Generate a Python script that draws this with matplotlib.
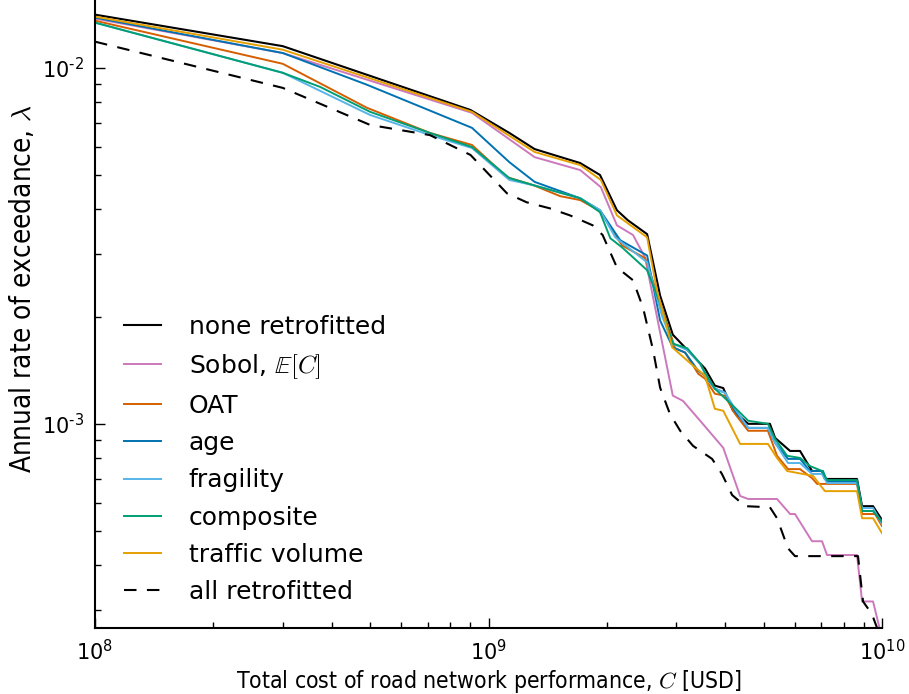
import numpy as np
import matplotlib
matplotlib.use("Agg")
import matplotlib.pyplot as plt
from matplotlib.ticker import FuncFormatter

plt.rcParams["mathtext.fontset"] = "cm"
plt.rcParams["font.family"] = "DejaVu Sans"
plt.rcParams["axes.unicode_minus"] = False

# exceedance curves: total cost C [USD] vs annual rate lambda
none_c = [1.0e8, 3.0e8, 9.0e8, 1.13e9, 1.31e9, 1.71e9, 1.92e9, 2.12e9, 2.26e9, 2.53e9,
          2.73e9, 2.94e9, 3.25e9, 3.55e9, 3.76e9, 3.95e9, 4.18e9, 4.57e9, 5.19e9, 5.35e9,
          5.84e9, 6.19e9, 6.64e9, 7.04e9, 7.16e9, 8.64e9, 8.90e9, 9.49e9, 1.0e10]
none_l = [1.41e-2, 1.15e-2, 7.61e-3, 6.56e-3, 5.91e-3, 5.40e-3, 5.00e-3, 3.98e-3, 3.73e-3, 3.41e-3,
          2.29e-3, 1.78e-3, 1.585e-3, 1.43e-3, 1.28e-3, 1.26e-3, 1.09e-3, 1.00e-3, 1.00e-3, 9.13e-4,
          8.39e-4, 8.39e-4, 7.37e-4, 7.37e-4, 7.00e-4, 7.00e-4, 5.87e-4, 5.87e-4, 5.37e-4]

sobol_c = [1.0e8, 3.0e8, 9.08e8, 1.31e9, 1.71e9, 1.93e9, 2.12e9, 2.33e9, 2.50e9, 2.94e9,
           3.12e9, 3.45e9, 3.95e9, 4.36e9, 4.57e9, 5.41e9, 5.84e9, 6.01e9, 6.64e9, 7.04e9,
           7.25e9, 8.64e9, 8.90e9, 9.49e9, 1.0e10]
sobol_l = [1.374e-2, 1.10e-2, 7.47e-3, 5.61e-3, 5.16e-3, 4.62e-3, 3.61e-3, 3.39e-3, 2.93e-3, 1.20e-3,
           1.16e-3, 1.02e-3, 8.56e-4, 6.27e-4, 6.15e-4, 6.15e-4, 5.58e-4, 5.58e-4, 4.68e-4, 4.68e-4,
           4.28e-4, 4.28e-4, 3.17e-4, 3.17e-4, 2.5e-4]

oat_c = [1.0e8, 3.0e8, 4.91e8, 7.10e8, 9.08e8, 1.114e9, 1.30e9, 1.52e9, 1.71e9, 1.92e9,
         2.185e9, 2.50e9, 2.76e9, 2.98e9, 3.16e9, 3.41e9, 3.55e9, 3.76e9, 3.99e9, 4.23e9,
         4.57e9, 5.13e9, 5.41e9, 5.77e9, 6.19e9, 6.64e9, 6.84e9, 8.64e9, 8.90e9, 9.60e9, 1.0e10]
oat_l = [1.356e-2, 1.026e-2, 7.72e-3, 6.56e-3, 6.07e-3, 4.93e-3, 4.68e-3, 4.36e-3, 4.25e-3, 3.96e-3,
         3.17e-3, 2.92e-3, 2.12e-3, 1.63e-3, 1.585e-3, 1.383e-3, 1.339e-3, 1.215e-3, 1.199e-3, 1.067e-3,
         9.56e-4, 9.56e-4, 8.13e-4, 7.46e-4, 7.46e-4, 7.04e-4, 6.78e-4, 6.78e-4, 5.58e-4, 5.58e-4, 5.16e-4]

age_c = [1.0e8, 3.0e8, 4.91e8, 9.08e8, 1.13e9, 1.31e9, 1.71e9, 1.92e9, 2.16e9, 2.53e9,
         2.73e9, 2.94e9, 3.16e9, 3.41e9, 3.55e9, 3.76e9, 3.99e9, 4.23e9, 4.57e9, 5.13e9,
         5.35e9, 5.77e9, 6.19e9, 6.56e9, 7.08e9, 7.25e9, 8.64e9, 8.90e9, 9.49e9, 1.0e10]
age_l = [1.383e-2, 1.10e-2, 8.96e-3, 6.78e-3, 5.43e-3, 4.78e-3, 4.30e-3, 3.98e-3, 3.28e-3, 2.97e-3,
         1.95e-3, 1.64e-3, 1.585e-3, 1.41e-3, 1.365e-3, 1.255e-3, 1.223e-3, 1.088e-3, 9.74e-4, 9.74e-4,
         8.84e-4, 7.97e-4, 7.97e-4, 7.37e-4, 7.37e-4, 6.88e-4, 6.88e-4, 5.69e-4, 5.69e-4, 5.33e-4]

frag_c = [1.0e8, 3.0e8, 5.0e8, 7.10e8, 9.08e8, 1.13e9, 1.30e9, 1.71e9, 1.92e9, 2.10e9,
          2.53e9, 2.76e9, 2.94e9, 3.20e9, 3.45e9, 3.55e9, 3.76e9, 3.99e9, 4.23e9, 4.57e9,
          5.13e9, 5.35e9, 5.77e9, 6.19e9, 6.64e9, 7.04e9, 7.25e9, 8.64e9, 8.90e9, 9.49e9, 1.0e10]
frag_l = [1.339e-2, 9.68e-3, 7.37e-3, 6.47e-3, 5.95e-3, 4.84e-3, 4.68e-3, 4.30e-3, 3.98e-3, 3.34e-3,
          2.84e-3, 2.01e-3, 1.68e-3, 1.61e-3, 1.476e-3, 1.383e-3, 1.255e-3, 1.223e-3, 1.102e-3, 9.74e-4,
          9.74e-4, 8.84e-4, 7.76e-4, 7.76e-4, 7.23e-4, 7.23e-4, 6.82e-4, 6.82e-4, 5.80e-4, 5.80e-4, 5.23e-4]

comp_c = [1.0e8, 3.0e8, 3.73e8, 5.0e8, 7.10e8, 9.08e8, 1.13e9, 1.30e9, 1.71e9, 1.92e9,
          2.04e9, 2.185e9, 2.53e9, 2.73e9, 2.94e9, 3.20e9, 3.45e9, 3.55e9, 3.76e9, 4.23e9,
          4.57e9, 5.13e9, 5.35e9, 5.74e9, 6.19e9, 6.56e9, 7.04e9, 7.25e9, 8.64e9, 8.90e9,
          9.49e9, 1.0e10]
comp_l = [1.339e-2, 9.68e-3, 8.84e-3, 7.52e-3, 6.56e-3, 5.99e-3, 4.90e-3, 4.68e-3, 4.30e-3, 3.93e-3,
          3.32e-3, 3.13e-3, 2.70e-3, 2.18e-3, 1.68e-3, 1.63e-3, 1.476e-3, 1.392e-3, 1.255e-3, 1.110e-3,
          1.02e-3, 1.00e-3, 9.07e-4, 8.13e-4, 8.02e-4, 7.61e-4, 7.37e-4, 6.95e-4, 6.95e-4, 5.69e-4,
          5.69e-4, 5.30e-4]

traffic_c = [1.0e8, 3.0e8, 9.08e8, 1.31e9, 1.71e9, 1.93e9, 2.12e9, 2.53e9, 2.68e9, 2.93e9,
             3.31e9, 3.55e9, 3.76e9, 3.95e9, 4.36e9, 5.13e9, 5.41e9, 5.74e9, 6.68e9, 7.16e9,
             8.64e9, 8.90e9, 9.49e9, 1.0e10]
traffic_l = [1.392e-2, 1.124e-2, 7.52e-3, 5.80e-3, 5.33e-3, 4.84e-3, 3.85e-3, 3.34e-3, 2.37e-3, 1.64e-3,
             1.457e-3, 1.365e-3, 1.102e-3, 1.088e-3, 8.78e-4, 8.78e-4, 8.02e-4, 7.37e-4, 7.14e-4, 6.47e-4,
             6.47e-4, 5.43e-4, 5.43e-4, 4.93e-4]

all_c = [1.0e8, 3.0e8, 5.0e8, 7.10e8, 9.0e8, 1.114e9, 1.25e9, 1.43e9, 1.61e9, 1.84e9,
         1.95e9, 2.12e9, 2.33e9, 2.47e9, 2.62e9, 2.73e9, 2.89e9, 3.07e9, 3.31e9, 3.70e9,
         3.92e9, 4.16e9, 4.49e9, 5.19e9, 5.41e9, 5.77e9, 6.01e9, 8.69e9, 8.95e9, 9.43e9, 1.0e10]
all_l = [1.184e-2, 8.78e-3, 6.91e-3, 6.47e-3, 5.69e-3, 4.44e-3, 4.19e-3, 4.03e-3, 3.85e-3, 3.61e-3,
         3.39e-3, 2.75e-3, 2.53e-3, 2.12e-3, 1.61e-3, 1.263e-3, 1.067e-3, 9.56e-4, 8.67e-4, 7.97e-4,
         7.23e-4, 6.31e-4, 5.87e-4, 5.83e-4, 5.43e-4, 4.47e-4, 4.25e-4, 4.25e-4, 3.17e-4, 2.92e-4, 2.45e-4]


def pow10_label(v, pos):
    # short hyphen in the exponent instead of the wide math minus
    e = int(round(np.log10(v)))
    sign = "\u2010" if e < 0 else ""
    return r"$\mathdefault{10^{%s%d}}$" % (sign, abs(e))


fig = plt.figure(figsize=(9.09, 6.94), dpi=100)
ax = fig.add_axes([95 / 909, 1 - 628 / 694, 787 / 909, 628 / 694])

ax.plot(none_c, none_l, color="black", lw=1.5, label="none retrofitted")
ax.plot(sobol_c, sobol_l, color="#CC78BC", lw=1.4, label=r"Sobol, $\mathbb{E}[C]$")
ax.plot(oat_c, oat_l, color="#D55E00", lw=1.4, label="OAT")
ax.plot(age_c, age_l, color="#0072B2", lw=1.4, label="age")
ax.plot(frag_c, frag_l, color="#56B4E9", lw=1.4, label="fragility")
ax.plot(comp_c, comp_l, color="#009E73", lw=1.4, label="composite")
ax.plot(traffic_c, traffic_l, color="#E69F00", lw=1.4, label="traffic volume")
ax.plot(all_c, all_l, color="black", lw=1.5, ls="--", dashes=(6, 5), label="all retrofitted")

ax.set_xscale("log")
ax.set_yscale("log")
ax.set_xlim(1e8, 1e10)
ax.set_ylim(2.67e-4, 1.55e-2)
ax.yaxis.set_major_formatter(FuncFormatter(pow10_label))

ax.spines["top"].set_visible(False)
ax.spines["right"].set_visible(False)
ax.spines["left"].set_linewidth(1.5)
ax.spines["bottom"].set_linewidth(1.5)
ax.tick_params(which="both", direction="in", top=False, right=False, labelsize=15)
ax.tick_params(which="major", length=7, width=1, pad=8)
ax.tick_params(which="minor", length=4, width=1)

ax.set_xlabel(r"Total cost of road network performance, $C$ [USD]",
              fontsize=16.5, fontstretch="condensed")
ax.set_ylabel(r"Annual rate of exceedance, $\lambda$",
              fontsize=20, fontstretch="condensed")
ax.xaxis.set_label_coords(0.5, -0.064)
ax.yaxis.set_label_coords(-0.074, 0.54)

ax.legend(loc="lower left", bbox_to_anchor=(0.008, 0.002), frameon=False, fontsize=18,
          handlelength=1.5, handletextpad=1.1, labelspacing=0.53)

fig.savefig("out.png", dpi=100)
